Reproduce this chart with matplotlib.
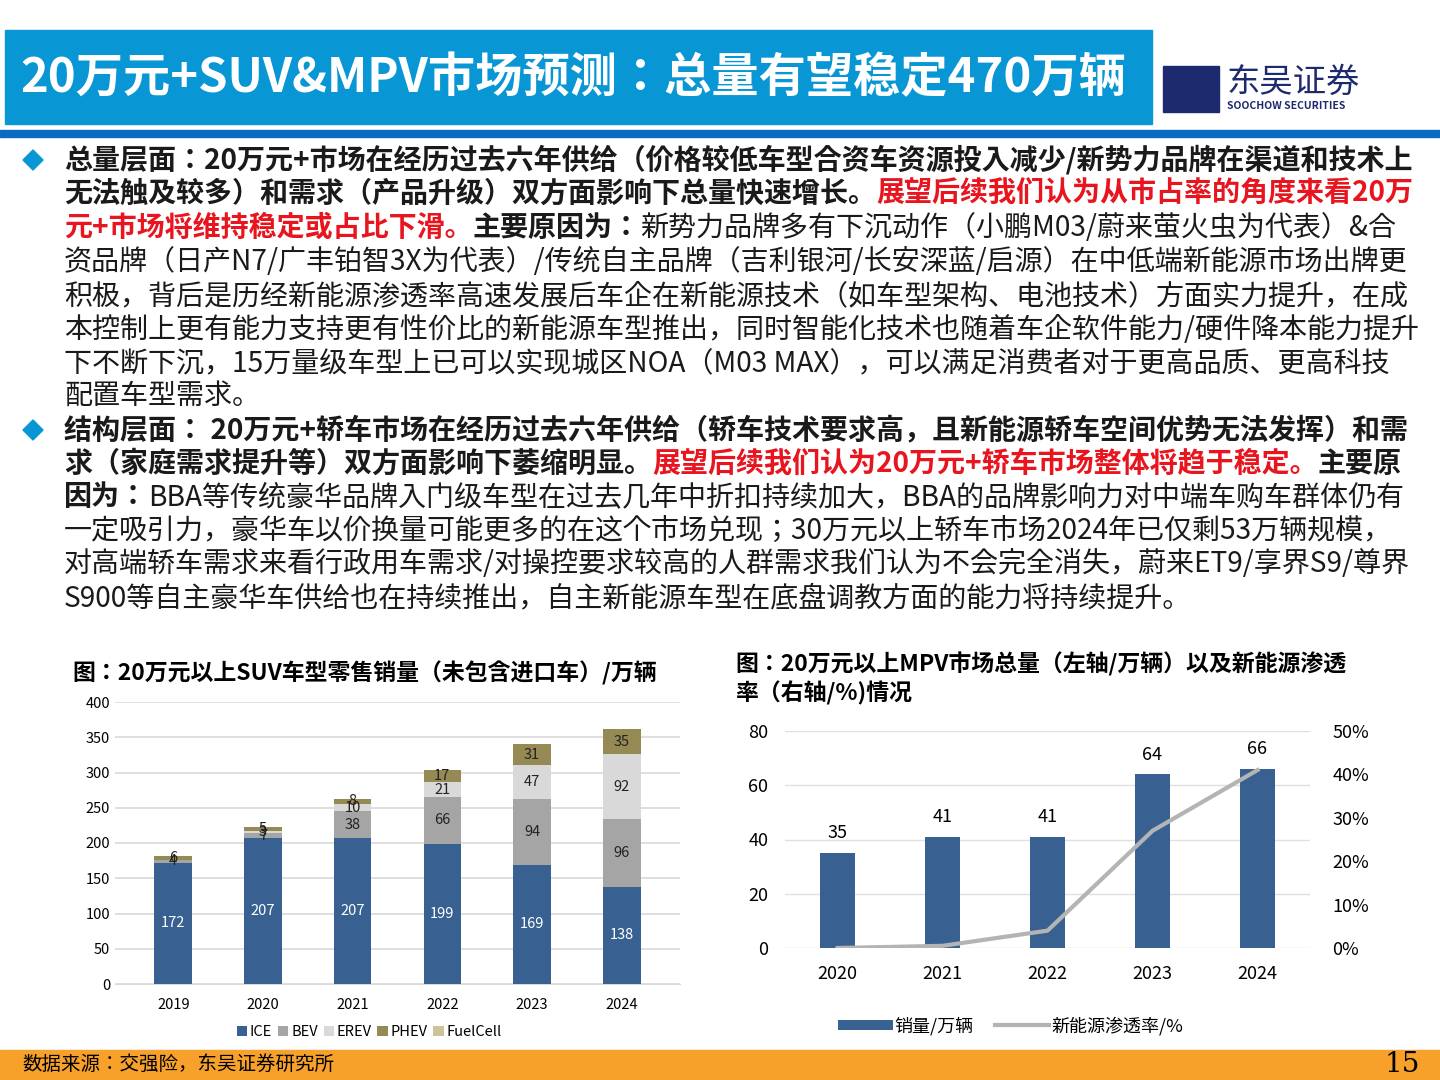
import matplotlib
matplotlib.use("Agg")
import matplotlib.pyplot as plt
from matplotlib import font_manager as fm
from matplotlib.patches import Rectangle, Polygon
import numpy as np

cjk = sorted(set(f.name for f in fm.fontManager.ttflist if 'Sans CJK' in f.name))
pref = [n for n in cjk if n.endswith('SC')] + cjk
cjkname = pref[0] if pref else 'DejaVu Sans'
plt.rcParams['font.family'] = 'sans-serif'
plt.rcParams['font.sans-serif'] = [cjkname, 'DejaVu Sans']

years = ['2019', '2020', '2021', '2022', '2023', '2024']
ice = [172, 207, 207, 199, 169, 138]
bev = [4, 7, 38, 66, 94, 96]
erev = [0, 3, 10, 21, 47, 92]
phev = [6, 5, 8, 17, 31, 35]
fuel = [0, 0, 0, 0, 0, 1]

mpv_years = ['2020', '2021', '2022', '2023', '2024']
mpv_sales = [35, 41, 41, 64, 66]
mpv_nev = [0.0, 0.5, 4.0, 27.0, 41.0]

W, H = 1440, 1080
fig = plt.figure(figsize=(14.4, 10.8), dpi=100)

def fx(x): return x / W
def fy(y): return 1 - y / H

# header
fig.patches.append(Rectangle((fx(5), fy(124)), fx(1147), 94/H, transform=fig.transFigure, color='#0896d4'))
fig.text(fx(20), fy(78), '20万元+SUV&MPV市场预测：总量有望稳定470万辆', color='white', fontsize=34, fontweight='bold', va='center')
fig.patches.append(Rectangle((0, fy(137)), 1, 7/H, transform=fig.transFigure, color='#0a6cc0'))
fig.text(fx(1227), fy(82), '东吴证券', color='#1d2b6e', fontsize=24, va='center')
fig.text(fx(1227), fy(106), 'SOOCHOW SECURITIES', color='#1d2b6e', fontsize=7.5, fontweight='bold', va='center')
fig.patches.append(Rectangle((fx(1163), fy(112)), 56/W, 46/H, transform=fig.transFigure, color='#1d2b6e'))

# footer
fig.patches.append(Rectangle((0, 0), 1, 30/H, transform=fig.transFigure, color='#f7a12b'))
fig.text(fx(22), fy(1064), '数据来源：交强险，东吴证券研究所', fontsize=14, va='center')
fig.text(fx(1420), fy(1064), '15', fontsize=20, va='center', ha='right', family='DejaVu Serif')

# paragraph text
K, R = '#1a1a1a', '#e8141e'
lines = [
    [('总量层面：20万元+市场在经历过去六年供给（价格较低车型合资车资源投入减少/新势力品牌在渠道和技术上', K, 'bold')],
    [('无法触及较多）和需求（产品升级）双方面影响下总量快速增长。', K, 'bold'), ('展望后续我们认为从市占率的角度来看20万', R, 'bold')],
    [('元+市场将维持稳定或占比下滑。', R, 'bold'), ('主要原因为：', K, 'bold'), ('新势力品牌多有下沉动作（小鹏M03/蔚来萤火虫为代表）&合', K, 'normal')],
    [('资品牌（日产N7/广丰铂智3X为代表）/传统自主品牌（吉利银河/长安深蓝/启源）在中低端新能源市场出牌更', K, 'normal')],
    [('积极，背后是历经新能源渗透率高速发展后车企在新能源技术（如车型架构、电池技术）方面实力提升，在成', K, 'normal')],
    [('本控制上更有能力支持更有性价比的新能源车型推出，同时智能化技术也随着车企软件能力/硬件降本能力提升', K, 'normal')],
    [('下不断下沉，15万量级车型上已可以实现城区NOA（M03 MAX），可以满足消费者对于更高品质、更高科技', K, 'normal')],
    [('配置车型需求。', K, 'normal')],
    [('结构层面： 20万元+轿车市场在经历过去六年供给（轿车技术要求高，且新能源轿车空间优势无法发挥）和需', K, 'bold')],
    [('求（家庭需求提升等）双方面影响下萎缩明显。', K, 'bold'), ('展望后续我们认为20万元+轿车市场整体将趋于稳定。', R, 'bold'), ('主要原', K, 'bold')],
    [('因为：', K, 'bold'), ('BBA等传统豪华品牌入门级车型在过去几年中折扣持续加大，BBA的品牌影响力对中端车购车群体仍有', K, 'normal')],
    [('一定吸引力，豪华车以价换量可能更多的在这个市场兑现；30万元以上轿车市场2024年已仅剩53万辆规模，', K, 'normal')],
    [('对高端轿车需求来看行政用车需求/对操控要求较高的人群需求我们认为不会完全消失，蔚来ET9/享界S9/尊界', K, 'normal')],
    [('S900等自主豪华车供给也在持续推出，自主新能源车型在底盘调教方面的能力将持续提升。', K, 'normal')],
]
ys = [160, 194, 228, 262, 296, 330, 363, 396, 430, 464, 497, 531, 564, 598]
fig.canvas.draw()
rend = fig.canvas.get_renderer()
for ln, yy in zip(lines, ys):
    texts = []
    for s, c, w in ln:
        t = fig.text(0, fy(yy), s, color=c, fontweight=w, fontsize=20.2, va='center')
        texts.append(t)
    widths = [t.get_window_extent(rend).width for t in texts]
    x = 64
    for t, wd in zip(texts, widths):
        t.set_x(fx(x))
        x += wd
for yy in (160, 430):
    cx, cy = 33, yy
    fig.patches.append(Polygon([(fx(cx-10), fy(cy)), (fx(cx), fy(cy-10)), (fx(cx+10), fy(cy)), (fx(cx), fy(cy+10))],
                               closed=True, transform=fig.transFigure, color='#0896d4'))

# left chart
fig.text(fx(72), fy(673), '图：20万元以上SUV车型零售销量（未包含进口车）/万辆', fontsize=16.5, fontweight='bold', va='center')
ax = fig.add_axes([fx(115), fy(984), (680-115)/W, (984-702)/H])
cols = ['#386192', '#a5a5a5', '#d9d9d9', '#958a54', '#cdc39a']
names = ['ICE', 'BEV', 'EREV', 'PHEV', 'FuelCell']
x = np.arange(len(years))
bottom = np.zeros(len(years))
series = [ice, bev, erev, phev, fuel]
for i, (s, c, n) in enumerate(zip(series, cols, names)):
    s = np.array(s, float)
    ax.bar(x, s, 0.42, bottom=bottom, color=c, label=n, zorder=3)
    if i < 4:
        for xi, (v, b) in enumerate(zip(s, bottom)):
            if v > 0:
                ax.text(xi, b + v / 2, f'{int(v)}', ha='center', va='center', fontsize=10.5,
                        color='white' if i == 0 else '#222222', zorder=4)
    bottom += s
ax.set_ylim(0, 400)
ax.set_yticks(range(0, 401, 50))
ax.set_xticks(x, years)
ax.set_xlim(-0.65, 5.65)
ax.grid(axis='y', color='#d9d9d9', lw=1.2, zorder=0)
for s in ['top', 'right', 'left']:
    ax.spines[s].set_visible(False)
ax.spines['bottom'].set_color('#d9d9d9')
ax.tick_params(length=0, labelsize=10.5)
ax.tick_params(axis='x', pad=10)
ax.legend(loc='upper center', bbox_to_anchor=(0.45, -0.1), ncol=5, frameon=False, fontsize=10.5,
          handlelength=0.7, handleheight=0.7, handletextpad=0.2, columnspacing=0.4)

# right chart
fig.text(fx(735), fy(664), '图：20万元以上MPV市场总量（左轴/万辆）以及新能源渗透', fontsize=16.5, fontweight='bold', va='center')
fig.text(fx(735), fy(693), '率（右轴/%)情况', fontsize=16.5, fontweight='bold', va='center')
ax2 = fig.add_axes([fx(785), fy(948), (1310-785)/W, (948-731)/H])
x2 = np.arange(len(mpv_years))
ax2.bar(x2, mpv_sales, 0.33, color='#386192', label='销量/万辆', zorder=3)
for xi, v in zip(x2, mpv_sales):
    ax2.text(xi, v + 4, str(v), ha='center', va='bottom', fontsize=13)
ax2.set_ylim(0, 80)
ax2.set_yticks(range(0, 81, 20))
ax2.set_xticks(x2, mpv_years)
ax2.set_xlim(-0.5, 4.5)
ax2.grid(axis='y', color='#e0e0e0', lw=1, zorder=0)
for s in ['top', 'right', 'left', 'bottom']:
    ax2.spines[s].set_visible(False)
ax2.tick_params(length=0, labelsize=13, pad=12)
ax3 = ax2.twinx()
ax3.plot(x2, mpv_nev, color='#b4b4b4', lw=3, label='新能源渗透率/%')
ax3.set_ylim(0, 50)
ax3.set_yticks(range(0, 51, 10), [f'{v}%' for v in range(0, 51, 10)])
for s in ax3.spines.values():
    s.set_visible(False)
ax3.tick_params(length=0, labelsize=13, pad=16)
h1, l1 = ax2.get_legend_handles_labels()
h2, l2 = ax3.get_legend_handles_labels()
ax2.legend(h1 + h2, l1 + l2, loc='upper center', bbox_to_anchor=(0.43, -0.24), ncol=2, frameon=False,
           fontsize=13, handlelength=3, handleheight=0.5, handletextpad=0.1, columnspacing=1.2)

fig.savefig('out.png', dpi=100)
